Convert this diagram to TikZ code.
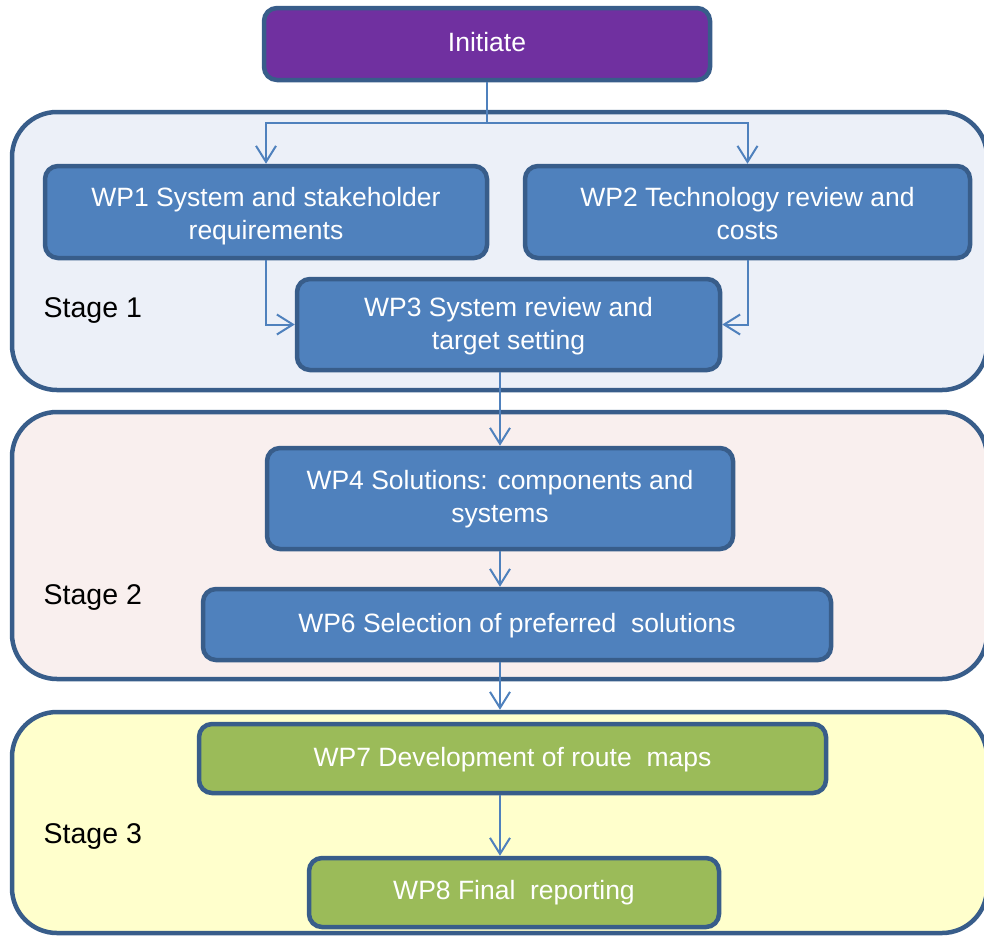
\documentclass[tikz,border=0pt]{standalone}
\usepackage{fontspec}
\setmainfont{Liberation Sans}
\usetikzlibrary{arrows.meta}

\definecolor{wpblue}{HTML}{4F81BD}
\definecolor{wpedge}{HTML}{385D8A}
\definecolor{wpgreen}{HTML}{9BBB59}
\definecolor{wppurple}{HTML}{7030A0}
\definecolor{stageA}{HTML}{ECF0F8}
\definecolor{stageB}{HTML}{F9EFEE}
\definecolor{stageC}{HTML}{FFFFCC}

% centred lines of a box label, lowered by #1 without changing the box size
\newcommand\wplines[2]{\raisebox{#1}[\height][\depth]{\begin{tabular}{@{}c@{}}#2\end{tabular}}}

\tikzset{
  stagebox/.style={draw=wpedge, line width=4.5pt, rounded corners=45pt,
    inner sep=0pt, minimum width=975pt},
  wpbox/.style={draw=wpedge, fill=wpblue, line width=4.5pt, rounded corners=13pt,
    inner sep=0pt, text=white,
    font=\fontsize{26.5}{33}\selectfont},
  stagelabel/.style={anchor=base west, inner sep=0pt, text=black,
    font=\fontsize{28.5}{33}\selectfont},
  flow/.style={draw=wpblue, line width=2pt},
  arr/.style={flow, -{Straight Barb[length=16pt,width=20pt,line width=2pt]}},
}

\begin{document}
\begin{tikzpicture}[x=1pt, y=-1pt]
\useasboundingbox (0,0) rectangle (984,938);

% stage panels
\node[stagebox, fill=stageA, minimum height=278pt] (stage1) at (499.5,251) {};
\node[stagebox, fill=stageB, minimum height=267pt] (stage2) at (499.5,545.5) {};
\node[stagebox, fill=stageC, minimum height=221pt] (stage3) at (499.5,822.5) {};

\node[stagelabel] (lab1) at (43.5,317) {Stage 1};
\node[stagelabel] (lab2) at (43.5,604) {Stage 2};
\node[stagelabel] (lab3) at (43.5,843) {Stage 3};

% work packages
\node[wpbox, fill=wppurple, minimum width=446pt, minimum height=72pt] (init) at (487,44)
  {\wplines{-1pt}{Initiate}};
\node[wpbox, minimum width=442pt, minimum height=92pt] (wp1) at (266,212)
  {\wplines{-4.6pt}{WP1 System and stakeholder\\requirements}};
\node[wpbox, minimum width=445pt, minimum height=92pt] (wp2) at (747.5,212)
  {\wplines{-4.6pt}{WP2 Technology review and\\costs}};
\node[wpbox, minimum width=423pt, minimum height=91pt] (wp3) at (508.5,324.5)
  {\wplines{-2pt}{WP3 System review and\\target setting}};
\node[wpbox, minimum width=466pt, minimum height=101pt] (wp4) at (500,498.5)
  {\wplines{-0.7pt}{WP4 Solutions: components and\\systems}};
\node[wpbox, minimum width=628pt, minimum height=71pt] (wp6) at (517,624.5)
  {\wplines{-1pt}{WP6 Selection of preferred\ \ solutions}};
\node[wpbox, fill=wpgreen, minimum width=627pt, minimum height=69pt] (wp7) at (512.5,758.5)
  {\wplines{-1pt}{WP7 Development of route\ \ maps}};
\node[wpbox, fill=wpgreen, minimum width=410pt, minimum height=69pt] (wp8) at (514,892.5)
  {\wplines{-0.5pt}{WP8 Final\ \ reporting}};

% connectors
\coordinate (split) at (487,123);
\draw[flow] (init.south) -- (split);
\draw[arr] (split) -| (wp1.north);
\draw[arr] (split) -| (wp2.north);
\draw[arr] (wp1.south) |- (wp3.west);
\draw[arr] (wp2.south) |- (wp3.east);
\draw[arr] (wp3.south -| wp4.north) -- (wp4.north);
\draw[arr] (wp4.south) -- (wp4.south |- wp6.north);
\draw[arr, shorten >=12pt] (wp6.south -| wp4.south) -- (wp4.south |- wp7.north);
\draw[arr] (wp7.south -| wp4.south) -- (wp4.south |- wp8.north);
\end{tikzpicture}
\end{document}
